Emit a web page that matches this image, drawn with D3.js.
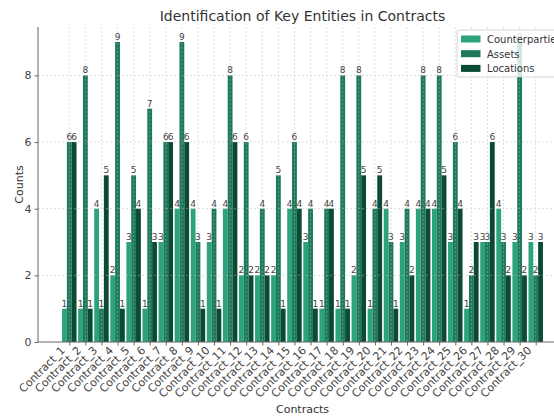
<!DOCTYPE html>
<html>
<head>
<meta charset="utf-8">
<script src="https://cdn.jsdelivr.net/npm/d3@7"></script>
<style>
  html, body { margin: 0; padding: 0; background: #fff; }
  svg { display: block; font-family: "DejaVu Sans", sans-serif; }
</style>
</head>
<body>
<svg id="chart" width="554" height="417"></svg>
<script>
const categories = [
  "Contract_1", "Contract_2", "Contract_3", "Contract_4", "Contract_5",
  "Contract_6", "Contract_7", "Contract_8", "Contract_9", "Contract_10",
  "Contract_11", "Contract_12", "Contract_13", "Contract_14", "Contract_15",
  "Contract_16", "Contract_17", "Contract_18", "Contract_19", "Contract_20",
  "Contract_21", "Contract_22", "Contract_23", "Contract_24", "Contract_25",
  "Contract_26", "Contract_27", "Contract_28", "Contract_29", "Contract_30"
];
const counterparties = [1, 1, 4, 2, 3, 1, 3, 4, 4, 3, 4, 2, 2, 2, 4, 3, 1, 1, 2, 1, 4, 3, 4, 4, 3, 1, 3, 4, 3, 3];
const assets         = [6, 8, 1, 9, 5, 7, 6, 9, 3, 4, 8, 6, 4, 5, 6, 4, 4, 8, 8, 4, 3, 4, 8, 8, 6, 2, 3, 3, 9, 2];
const locations      = [6, 1, 5, 1, 4, 3, 6, 6, 1, 1, 6, 2, 2, 1, 4, 1, 4, 1, 5, 5, 1, 2, 4, 5, 4, 3, 6, 2, 2, 3];
const seriesNames = ["Counterparties", "Assets", "Locations"];
const yTicks = [0, 2, 4, 6, 8];

const series = [
  { name: seriesNames[0], values: counterparties, color: "#2ca37c", offset: -1 },
  { name: seriesNames[1], values: assets,         color: "#1c7a5b", offset: 0 },
  { name: seriesNames[2], values: locations,      color: "#0b4a33", offset: 1 }
];

const svg = d3.select("#chart");
const plotLeft = 38, plotRight = 567, plotTop = 27, plotBottom = 342;
const barW = 0.3;
const n = categories.length;
const pad = (n - 1 + 3 * barW) * 0.05;

const x = d3.scaleLinear()
  .domain([-1.5 * barW - pad, n - 1 + 1.5 * barW + pad])
  .range([plotLeft, plotRight]);
const yMax = d3.max(series, s => d3.max(s.values)) * 1.05;
const y = d3.scaleLinear().domain([0, yMax]).range([plotBottom, plotTop]);

const textColor = "#444";
const barPx = x(barW) - x(0);

// bars
series.forEach(s => {
  svg.append("g").selectAll("rect")
    .data(s.values)
    .join("rect")
    .attr("x", (v, i) => x(i + s.offset * barW) - barPx / 2)
    .attr("y", v => y(v))
    .attr("width", barPx)
    .attr("height", v => y(0) - y(v))
    .attr("fill", s.color);
});

// dashed grid, drawn over the bars
const grid = svg.append("g")
  .attr("stroke", "#bbb")
  .attr("stroke-width", 0.8)
  .attr("stroke-dasharray", "2,2")
  .attr("opacity", 0.6);
grid.selectAll("line.gx")
  .data(d3.range(n))
  .join("line")
  .attr("x1", i => x(i)).attr("x2", i => x(i))
  .attr("y1", plotTop).attr("y2", plotBottom);
grid.selectAll("line.gy")
  .data(yTicks.filter(t => t > 0))
  .join("line")
  .attr("x1", plotLeft).attr("x2", plotRight)
  .attr("y1", t => y(t)).attr("y2", t => y(t));

// value labels
series.forEach(s => {
  svg.append("g").selectAll("text")
    .data(s.values)
    .join("text")
    .attr("x", (v, i) => x(i + s.offset * barW))
    .attr("y", v => y(v) - 2)
    .attr("text-anchor", "middle")
    .attr("font-size", 9)
    .attr("fill", textColor)
    .text(v => v);
});

// axes
const yAxis = d3.axisLeft(y).tickValues(yTicks).tickSize(3.5).tickPadding(3);
const yg = svg.append("g").attr("transform", `translate(${plotLeft},0)`).call(yAxis);
yg.select(".domain").remove();
yg.selectAll("line").attr("stroke", "#666");
yg.selectAll("text").attr("font-size", 11).attr("fill", textColor)
  .attr("font-family", "DejaVu Sans, sans-serif");

const xAxis = d3.axisBottom(x).tickValues(d3.range(n)).tickSize(3.5).tickFormat(i => categories[i]);
const xg = svg.append("g").attr("transform", `translate(0,${plotBottom})`).call(xAxis);
xg.select(".domain").remove();
xg.selectAll("line").attr("stroke", "#666");
xg.selectAll("text")
  .attr("font-size", 11)
  .attr("fill", textColor)
  .attr("font-family", "DejaVu Sans, sans-serif")
  .attr("text-anchor", "end")
  .attr("dy", null)
  .attr("y", 0)
  .attr("transform", "translate(-4,9) rotate(-45)");

// spines: left and bottom
svg.append("line").attr("x1", plotLeft).attr("x2", plotLeft).attr("y1", plotTop).attr("y2", plotBottom)
  .attr("stroke", "#666").attr("stroke-width", 1);
svg.append("line").attr("x1", plotLeft).attr("x2", plotRight).attr("y1", plotBottom).attr("y2", plotBottom)
  .attr("stroke", "#666").attr("stroke-width", 1);

// title and axis labels
svg.append("text")
  .attr("x", (plotLeft + plotRight) / 2).attr("y", 21)
  .attr("text-anchor", "middle").attr("font-size", 14).attr("fill", "#333")
  .text("Identification of Key Entities in Contracts");
svg.append("text")
  .attr("x", (plotLeft + plotRight) / 2).attr("y", 413)
  .attr("text-anchor", "middle").attr("font-size", 11).attr("fill", "#333")
  .text("Contracts");
svg.append("text")
  .attr("transform", `translate(23,${(plotTop + plotBottom) / 2}) rotate(-90)`)
  .attr("text-anchor", "middle").attr("font-size", 11).attr("fill", "#333")
  .text("Counts");

// legend
const lg = svg.append("g").attr("transform", "translate(457,30)");
lg.append("rect")
  .attr("width", 110).attr("height", 47).attr("rx", 2)
  .attr("fill", "#fff").attr("fill-opacity", 0.8)
  .attr("stroke", "#ccc").attr("stroke-width", 0.8);
series.forEach((s, k) => {
  const row = lg.append("g").attr("transform", `translate(4,${9 + k * 14.7})`);
  row.append("rect").attr("x", 0).attr("y", -3.5).attr("width", 19.5).attr("height", 7).attr("fill", s.color);
  row.append("text").attr("x", 26).attr("y", 4).attr("font-size", 10).attr("fill", "#333").text(s.name);
});
</script>
</body>
</html>
